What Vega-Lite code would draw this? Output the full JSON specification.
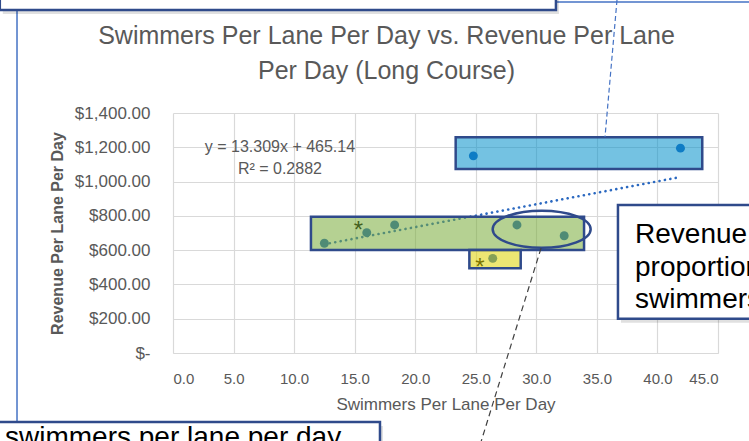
{
  "$schema": "https://vega.github.io/schema/vega-lite/v6.json",
  "width": 545,
  "height": 240,
  "autosize": {"type": "none"},
  "padding": {"left": 173, "top": 113, "right": 31, "bottom": 88},
  "background": "white",
  "config": {
    "view": {"stroke": null},
    "font": "Liberation Sans",
    "axis": {"labelOverlap": false}
  },
  "title": {
    "text": ["Swimmers Per Lane Per Day vs. Revenue Per Lane", "Per Day (Long Course)"],
    "fontSize": 25,
    "font": "Liberation Sans",
    "fontWeight": "normal",
    "color": "#595959",
    "anchor": "middle",
    "frame": "group",
    "baseline": "bottom",
    "dx": -59,
    "offset": -122,
    "lineHeight": 35
  },
  "datasets": {
    "points": [
      {"swimmers": 12.5, "revenue": 640},
      {"swimmers": 16.0, "revenue": 702},
      {"swimmers": 18.3, "revenue": 747},
      {"swimmers": 24.8, "revenue": 1150},
      {"swimmers": 26.4, "revenue": 552},
      {"swimmers": 28.4, "revenue": 747},
      {"swimmers": 32.3, "revenue": 684},
      {"swimmers": 41.9, "revenue": 1195}
    ],
    "zones": [
      {"zone": "blue", "x1": 23.34, "x2": 43.7, "y1": 1073, "y2": 1258},
      {"zone": "green", "x1": 11.39, "x2": 33.94, "y1": 601, "y2": 795},
      {"zone": "yellow", "x1": 24.47, "x2": 28.71, "y1": 494, "y2": 601}
    ],
    "ellipse": [{"x": 30.44, "y": 721.6}],
    "stars": [{"x": 15.3, "y": 746.7}, {"x": 25.35, "y": 532.6}],
    "equation": [
      {"x": 8.83, "y": 1203, "label": "y = 13.309x + 465.14"},
      {"x": 8.83, "y": 1071, "label": "R² = 0.2882"}
    ],
    "blueDash": [{"x": 36.66, "y": 2059, "x2": 35.67, "y2": 1260}],
    "grayDash": [{"x": 30.39, "y": 612, "x2": 25.35, "y2": -537}],
    "frameLeft": [{"x": -12.88, "y": 2001, "y2": -402}],
    "frameTop": [{"y": 2047, "x": 31.62, "x2": 48.5}],
    "noteBoxes": [
      {"x1": -14.3, "x2": 31.62, "y1": 2001, "y2": 2130},
      {"x1": 36.74, "x2": 49.3, "y1": 863, "y2": 200},
      {"x1": -15.1, "x2": 17.09, "y1": -402, "y2": -700}
    ],
    "noteText": [
      {"x": 38.15, "y": 642, "label": "Revenue"},
      {"x": 38.15, "y": 452, "label": "proportional"},
      {"x": 38.15, "y": 262, "label": "swimmers"},
      {"x": -13.87, "y": -540, "label": "swimmers per lane per day"}
    ]
  },
  "layer": [
    {
      "data": {"name": "points"},
      "transform": [{"regression": "revenue", "on": "swimmers"}],
      "mark": {"type": "line", "color": "#2a68c0", "strokeWidth": 2.6, "strokeDash": [0.1, 5.4], "strokeCap": "round"},
      "encoding": {
        "x": {
          "field": "swimmers", "type": "quantitative",
          "scale": {"domain": [0, 45], "nice": false, "zero": false},
          "axis": {
            "values": [0, 5, 10, 15, 20, 25, 30, 35, 40, 45],
            "format": ".1f",
            "title": "Swimmers Per Lane Per Day",
            "titleFont": "Liberation Sans", "titleFontSize": 17, "titleFontWeight": "normal", "titleColor": "#595959",
            "titlePadding": 10,
            "labelFont": "Liberation Sans", "labelFontSize": 15, "labelColor": "#595959",
            "labelPadding": 18,
            "labelOverlap": false,
            "ticks": false,
            "domainColor": "#d9d9d9",
            "grid": true, "gridColor": "#d9d9d9", "gridWidth": 1.2
          }
        },
        "y": {
          "field": "revenue", "type": "quantitative",
          "scale": {"domain": [0, 1400], "nice": false, "zero": false},
          "axis": {
            "tickCount": 7,
            "labelExpr": "datum.value === 0 ? '$-' : '$' + format(datum.value, ',.2f')",
            "title": "Revenue Per Lane Per Day",
            "titleFont": "Liberation Sans", "titleFontSize": 16, "titleFontWeight": "bold", "titleColor": "#595959",
            "titlePadding": 9,
            "labelFont": "Liberation Sans", "labelFontSize": 17, "labelColor": "#595959",
            "labelPadding": 23,
            "labelOverlap": false,
            "ticks": false,
            "domain": false,
            "grid": true, "gridColor": "#d9d9d9", "gridWidth": 1.2
          }
        }
      }
    },
    {
      "data": {"name": "points"},
      "mark": {"type": "point", "filled": true, "color": "#1e64be", "opacity": 1, "size": 80},
      "encoding": {
        "x": {"field": "swimmers", "type": "quantitative"},
        "y": {"field": "revenue", "type": "quantitative"}
      }
    },
    {
      "data": {"name": "stars"},
      "mark": {"type": "text", "text": "*", "fontSize": 24, "color": "#000000", "align": "center", "baseline": "alphabetic", "dy": 13},
      "encoding": {
        "x": {"field": "x", "type": "quantitative"},
        "y": {"field": "y", "type": "quantitative"}
      }
    },
    {
      "data": {"name": "zones"},
      "mark": {"type": "rect", "fillOpacity": 0.55, "stroke": "#2f4a8b", "strokeWidth": 2.5, "strokeOpacity": 1},
      "encoding": {
        "x": {"field": "x1", "type": "quantitative"},
        "x2": {"field": "x2"},
        "y": {"field": "y1", "type": "quantitative"},
        "y2": {"field": "y2"},
        "fill": {
          "field": "zone", "type": "nominal", "legend": null,
          "scale": {"domain": ["blue", "green", "yellow"], "range": ["#0290ca", "#78ab38", "#dcd100"]}
        }
      }
    },
    {
      "data": {"name": "ellipse"},
      "mark": {
        "type": "point", "filled": false, "stroke": "#2f4a8b", "strokeWidth": 2.5, "opacity": 1, "size": 9604,
        "shape": "M1,0C1,0.2088,0.5523,0.378,0,0.378C-0.5523,0.378,-1,0.2088,-1,0C-1,-0.2088,-0.5523,-0.378,0,-0.378C0.5523,-0.378,1,-0.2088,1,0Z"
      },
      "encoding": {
        "x": {"field": "x", "type": "quantitative"},
        "y": {"field": "y", "type": "quantitative"}
      }
    },
    {
      "data": {"name": "equation"},
      "mark": {"type": "text", "fontSize": 16, "font": "Liberation Sans", "color": "#595959", "align": "center", "baseline": "middle"},
      "encoding": {
        "x": {"field": "x", "type": "quantitative"},
        "y": {"field": "y", "type": "quantitative"},
        "text": {"field": "label"}
      }
    },
    {
      "data": {"name": "blueDash"},
      "mark": {"type": "rule", "color": "#4472c4", "strokeWidth": 1.2, "strokeDash": [5, 3]},
      "encoding": {
        "x": {"field": "x", "type": "quantitative"},
        "y": {"field": "y", "type": "quantitative"},
        "x2": {"field": "x2"},
        "y2": {"field": "y2"}
      }
    },
    {
      "data": {"name": "grayDash"},
      "mark": {"type": "rule", "color": "#404040", "strokeWidth": 1.2, "strokeDash": [6, 4]},
      "encoding": {
        "x": {"field": "x", "type": "quantitative"},
        "y": {"field": "y", "type": "quantitative"},
        "x2": {"field": "x2"},
        "y2": {"field": "y2"}
      }
    },
    {
      "data": {"name": "frameLeft"},
      "mark": {"type": "rule", "color": "#4472c4", "strokeWidth": 1.5},
      "encoding": {
        "x": {"field": "x", "type": "quantitative"},
        "y": {"field": "y", "type": "quantitative"},
        "y2": {"field": "y2"}
      }
    },
    {
      "data": {"name": "frameTop"},
      "mark": {"type": "rule", "color": "#4472c4", "strokeWidth": 1.5},
      "encoding": {
        "y": {"field": "y", "type": "quantitative"},
        "x": {"field": "x", "type": "quantitative"},
        "x2": {"field": "x2"}
      }
    },
    {
      "data": {"name": "noteBoxes"},
      "mark": {"type": "rect", "fill": "#000000", "opacity": 0.12, "xOffset": 3, "x2Offset": 3, "yOffset": 4, "y2Offset": 4},
      "encoding": {
        "x": {"field": "x1", "type": "quantitative"},
        "x2": {"field": "x2"},
        "y": {"field": "y1", "type": "quantitative"},
        "y2": {"field": "y2"}
      }
    },
    {
      "data": {"name": "noteBoxes"},
      "mark": {"type": "rect", "fill": "white", "stroke": "#2f4a8b", "strokeWidth": 2.5},
      "encoding": {
        "x": {"field": "x1", "type": "quantitative"},
        "x2": {"field": "x2"},
        "y": {"field": "y1", "type": "quantitative"},
        "y2": {"field": "y2"}
      }
    },
    {
      "data": {"name": "noteText"},
      "mark": {"type": "text", "fontSize": 28, "font": "Liberation Sans", "color": "#000000", "align": "left", "baseline": "alphabetic"},
      "encoding": {
        "x": {"field": "x", "type": "quantitative"},
        "y": {"field": "y", "type": "quantitative"},
        "text": {"field": "label"}
      }
    }
  ]
}
